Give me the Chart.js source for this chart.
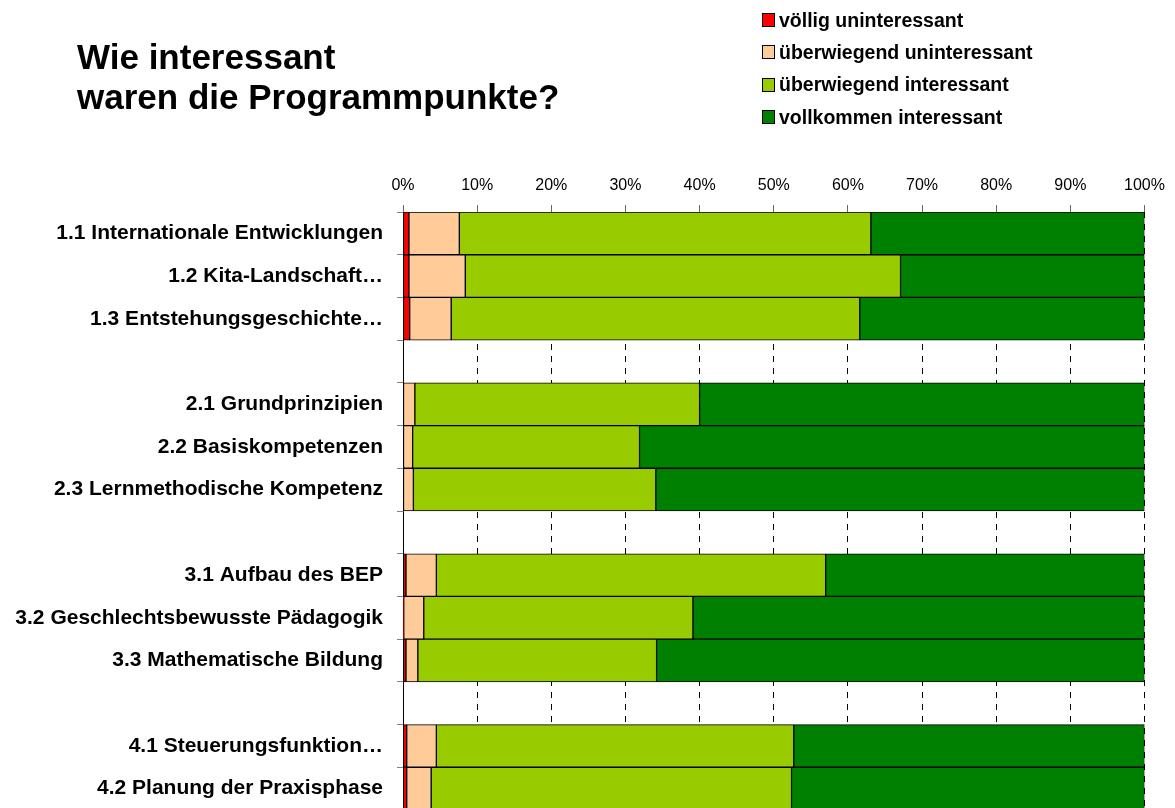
<!DOCTYPE html>
<html><head><meta charset="utf-8">
<script src="https://cdn.jsdelivr.net/npm/chart.js@4/dist/chart.umd.min.js"></script>
<style>
html,body{margin:0;padding:0;background:#fff;overflow:hidden;width:1175px;height:808px;}
#wrap{position:absolute;left:0;top:0;width:1175px;height:810px;}
#title{position:absolute;left:77px;top:37px;font:bold 35px "Liberation Sans",Arial,sans-serif;line-height:40px;color:#000;white-space:nowrap;}
#legend{position:absolute;left:762px;top:4px;font:bold 19.5px "Liberation Sans",Arial,sans-serif;color:#000;}
.item{height:32.3px;display:flex;align-items:center;white-space:nowrap;}
.box{width:11px;height:12px;border:1px solid #000;margin-right:4px;flex:none;}
</style></head>
<body>
<div id="wrap"><canvas id="c" width="1175" height="810"></canvas></div>
<div id="title">Wie interessant<br>waren die Programmpunkte?</div>
<div id="legend"></div>
<script>
const categories = ['1.1 Internationale Entwicklungen','1.2 Kita-Landschaft…','1.3 Entstehungsgeschichte…','',
  '2.1 Grundprinzipien','2.2 Basiskompetenzen','2.3 Lernmethodische Kompetenz','',
  '3.1 Aufbau des BEP','3.2 Geschlechtsbewusste Pädagogik','3.3 Mathematische Bildung','',
  '4.1 Steuerungsfunktion…','4.2 Planung der Praxisphase'];
const seriesNames = ['völlig uninteressant','überwiegend uninteressant','überwiegend interessant','vollkommen interessant'];
const seriesColors = ['#FF0000','#FFCC99','#99CC00','#008000'];
const voelligUninteressant      = [0.8, 0.8, 0.9, null, 0,    0,    0,    null, 0.4,  0.1,  0.4,  null, 0.5,  0.5];
const ueberwiegendUninteressant = [6.8, 7.6, 5.6, null, 1.6,  1.3,  1.4,  null, 4.1,  2.7,  1.6,  null, 4.0,  3.3];
const ueberwiegendInteressant   = [55.5,58.7,55.1, null, 38.4, 30.6, 32.7, null, 52.5, 36.3, 32.2, null, 48.2, 48.6];
const vollkommenInteressant     = [36.9,32.9,38.4, null, 60.0, 68.1, 65.9, null, 43.0, 60.9, 65.8, null, 47.3, 47.6];
const xTicks = [0,10,20,30,40,50,60,70,80,90,100];

const seriesValues = [voelligUninteressant, ueberwiegendUninteressant, ueberwiegendInteressant, vollkommenInteressant];

// legend (HTML text)
const lg = document.getElementById('legend');
seriesNames.forEach((n,i)=>{
  const d=document.createElement('div'); d.className='item';
  const b=document.createElement('span'); b.className='box'; b.style.background=seriesColors[i];
  d.appendChild(b); d.appendChild(document.createTextNode(n)); lg.appendChild(d);
});

Chart.defaults.font.family = '"Liberation Sans", Arial, sans-serif';
Chart.defaults.color = '#000';

new Chart(document.getElementById('c'), {
  type: 'bar',
  data: {
    labels: categories,
    datasets: seriesNames.map((n,i)=>({
      label: n, data: seriesValues[i], backgroundColor: seriesColors[i],
      borderColor: '#000', borderWidth: 1, borderSkipped: false,
      barPercentage: 1, categoryPercentage: 1
    }))
  },
  options: {
    indexAxis: 'y', responsive: false, animation: false,
    layout: { padding: { left: 0, right: 30.5, top: 0, bottom: 0 } },
    plugins: { legend: { display: false }, tooltip: { enabled: false } },
    scales: {
      x: {
        position: 'top', stacked: true, min: 0, max: 100,
        afterBuildTicks: s => { s.ticks = xTicks.map(v=>({value:v})); },
        afterFit: s => { s.height = 212; },
        ticks: { callback: v => v + '%', font: { size: 16 }, color: '#000', padding: 10, maxRotation: 0 },
        grid: { color: '#000', lineWidth: 1, tickLength: 7, tickColor: '#666', drawOnChartArea: true },
        border: { display: false, dash: [6, 6] }
      },
      y: {
        stacked: true,
        afterFit: s => { s.width = 403; s.paddingTop = 0; s.paddingBottom = 0; },
        ticks: { font: { size: 21, weight: 'bold' }, color: '#000', padding: 14 },
        grid: { offset: true, drawOnChartArea: false, tickLength: 6, color: '#808080' },
        border: { display: true, color: '#000', width: 1 }
      }
    }
  }
});
</script>
</body></html>
